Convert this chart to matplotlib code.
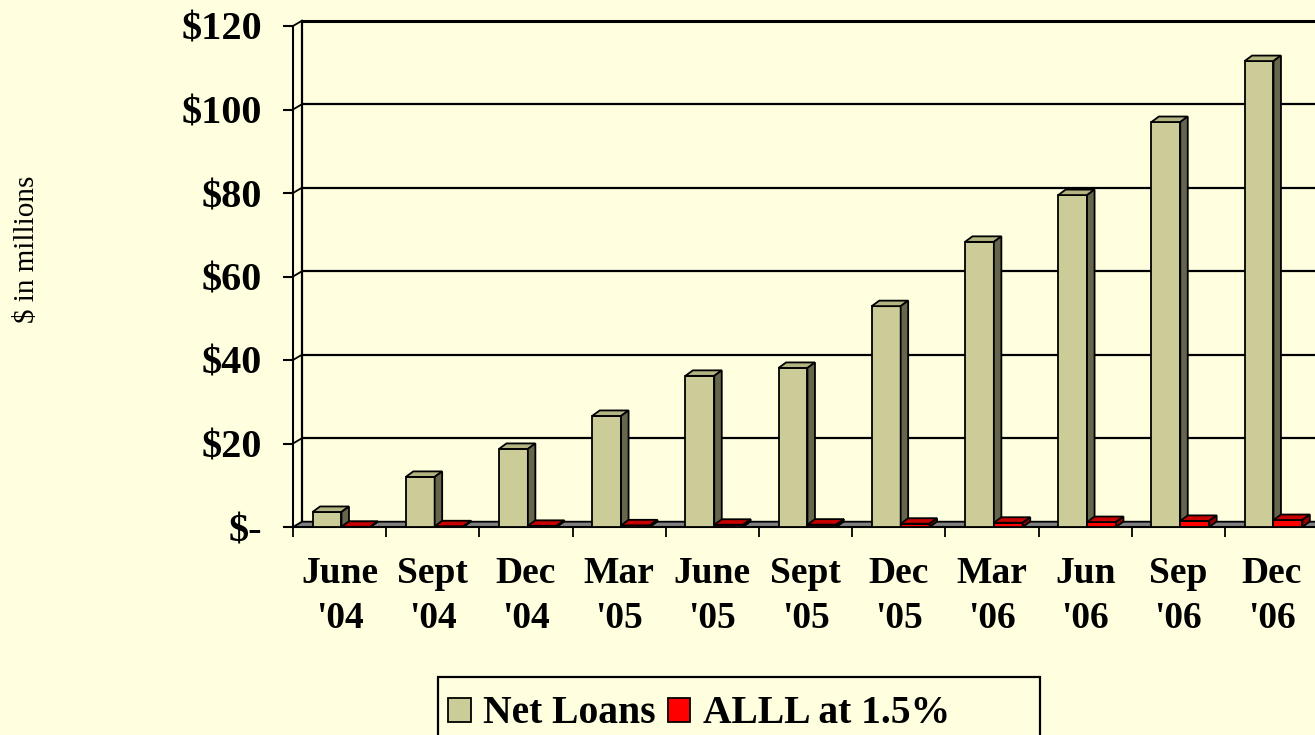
import matplotlib
matplotlib.use("Agg")
import matplotlib.pyplot as plt
from matplotlib.patches import Polygon, Rectangle
import numpy as np

plt.rcParams['text.parse_math'] = False
plt.rcParams['font.family'] = ['Liberation Serif', 'DejaVu Serif']

# ---------------- data ----------------
categories = ["June\n'04", "Sept\n'04", "Dec\n'04", "Mar\n'05", "June\n'05", "Sept\n'05",
              "Dec\n'05", "Mar\n'06", "Jun\n'06", "Sep\n'06", "Dec\n'06"]
net_loans = [3.6, 12.0, 18.7, 26.6, 36.2, 38.1, 52.9, 68.3, 79.5, 97.0, 111.6]
alll = [0.05, 0.18, 0.28, 0.40, 0.54, 0.57, 0.79, 1.02, 1.19, 1.46, 1.67]
series_names = ["Net Loans", "ALLL at 1.5%"]
y_ticks = [0, 20, 40, 60, 80, 100, 120]
y_tick_labels = ["$-", "$20", "$40", "$60", "$80", "$100", "$120"]
y_label = "$ in millions"

# ---------------- style ----------------
BG = "#FFFFE0"
front_cols = ["#CCCC99", "#FF0000"]
top_cols = ["#B4B482", "#C80000"]
side_cols = ["#66664C", "#960000"]

W, H = 1315, 735
CAT_PX = 93.2
fig = plt.figure(figsize=(W / 100, H / 100), dpi=100, facecolor=BG)
ax = fig.add_axes([293 / W, 1 - 527 / H, 11 * CAT_PX / W, 501 / H])
n = len(categories)
ax.set_xlim(-0.5, n - 0.5)
ax.set_ylim(0, 120)
ax.patch.set_visible(False)
for k in ['top', 'right', 'bottom']:
    ax.spines[k].set_visible(False)
ax.spines['left'].set_linewidth(1.5)
ax.spines['left'].set_zorder(2)

px_x = 1.0 / CAT_PX
px_y = 120.0 / 501
wdx, wdy = 9 * px_x, 5.3 * px_y     # wall depth offset
bdx, bdy = 7.5 * px_x, 5.5 * px_y   # bar depth offset

xl = -0.5
xr = n - 0.5 + 0.2
# back wall gridlines
for v in y_ticks[1:]:
    lw = 2.2 if v == y_ticks[-1] else 1.6
    ax.plot([xl + wdx, xr + wdx], [v + wdy, v + wdy], color='black', lw=lw,
            clip_on=False, zorder=1.5, solid_capstyle='butt')
    ax.plot([xl, xl + wdx], [v, v + wdy], color='black', lw=1.3, clip_on=False, zorder=1.5)
ax.plot([xl + wdx, xl + wdx], [wdy, y_ticks[-1] + wdy], color='black', lw=1.6,
        clip_on=False, zorder=1.5)

# floor
floor = Polygon([(xl, 0), (xr, 0), (xr + wdx, wdy), (xl + wdx, wdy)], closed=True,
                facecolor='#808080', edgecolor='black', lw=1.3, clip_on=False, zorder=1.6)
ax.add_patch(floor)

# bars
x = np.arange(n)
bw = 0.31
offsets = [-0.29, -0.29 + bw]
for s, vals in enumerate([net_loans, alll]):
    left = x + offsets[s]
    ax.bar(left, vals, width=bw, align='edge', color=front_cols[s],
           edgecolor='black', linewidth=1.3, zorder=3 + s, clip_on=False)
    for x0, v in zip(left, vals):
        top = Polygon([(x0, v), (x0 + bw, v), (x0 + bw + bdx, v + bdy), (x0 + bdx, v + bdy)],
                      closed=True, facecolor=top_cols[s], edgecolor='black', lw=1.3,
                      zorder=3 + s, clip_on=False, joinstyle='miter')
        side = Polygon([(x0 + bw, 0), (x0 + bw + bdx, bdy), (x0 + bw + bdx, v + bdy), (x0 + bw, v)],
                       closed=True, facecolor=side_cols[s], edgecolor='black', lw=1.3,
                       zorder=3 + s, clip_on=False, joinstyle='miter')
        ax.add_patch(top)
        ax.add_patch(side)

# front floor edge
ax.plot([xl, xr], [0, 0], color='black', lw=1.5, clip_on=False, zorder=2)

# ticks
ax.set_yticks(y_ticks)
ax.set_yticklabels(y_tick_labels, fontsize=29, fontweight='bold')
ax.tick_params(axis='y', length=7.2, width=1.5, pad=15, direction='out')
ax.set_xticks(np.arange(-0.5, n, 1.0))
ax.set_xticklabels([])
ax.set_xticks(x, minor=True)
ax.set_xticklabels(categories, minor=True, fontsize=27, fontweight='bold')
ax.tick_params(axis='x', which='major', length=7.2, width=1.3, direction='out')
ax.tick_params(axis='x', which='minor', length=0, pad=21)
for t in ax.get_xticklabels(minor=True):
    t.set_linespacing(1.38)

# y label
fig.text(27 / W, 1 - 249 / H, y_label, rotation=90, ha='center', va='center', fontsize=21)

# legend (manual)
fig.add_artist(Rectangle((438 / W, -0.05), (1040 - 438) / W, (1 - 677 / H) + 0.05,
                         fill=False, edgecolor='black', lw=1.6, transform=fig.transFigure))
sq = [(448, 23), (668, 22)]
txt_x = [483, 703]
for s in range(2):
    fig.add_artist(Rectangle((sq[s][0] / W, 1 - 722 / H), sq[s][1] / W, 24 / H,
                             facecolor=front_cols[s], edgecolor='black', lw=1.3,
                             transform=fig.transFigure))
    fig.text(txt_x[s] / W, 1 - 723 / H, series_names[s], fontsize=28.5, fontweight='bold',
             va='baseline', ha='left')

fig.savefig("out.png", dpi=100, facecolor=BG)
